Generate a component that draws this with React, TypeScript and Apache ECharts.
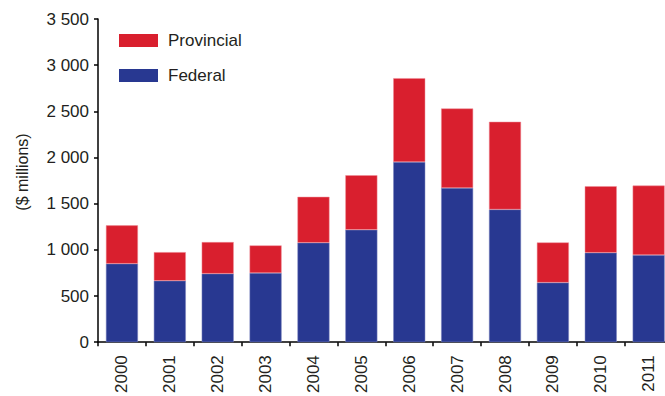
import React, { useEffect, useRef } from "react";
import * as echarts from "echarts";

const years = ["2000", "2001", "2002", "2003", "2004", "2005", "2006", "2007", "2008", "2009", "2010", "2011"];
const federal = [850, 665, 742, 750, 1077, 1217, 1952, 1671, 1437, 645, 969, 943];
const provincial = [415, 310, 342, 298, 497, 591, 907, 860, 950, 435, 720, 753];
const yTicks = [0, 500, 1000, 1500, 2000, 2500, 3000, 3500];

const FONT = "'Liberation Sans', Arial, sans-serif";
const TXT = "#231f20";

function fmt(v: number) {
  return String(v).replace(/\B(?=(\d{3})+(?!\d))/g, " ");
}

export default function App() {
  const ref = useRef<HTMLDivElement>(null);
  useEffect(() => {
    if (!ref.current) return;
    const chart = echarts.init(ref.current, null, { renderer: "svg" });
    chart.setOption({
      animation: false,
      backgroundColor: "#ffffff",
      textStyle: { fontFamily: FONT },
      grid: { left: 98, top: 19, width: 574.6, height: 324 },
      legend: {
        orient: "vertical",
        left: 119,
        top: 32,
        padding: 0,
        itemWidth: 39,
        itemHeight: 13,
        itemGap: 18,
        icon: "rect",
        itemStyle: { borderWidth: 0 },
        data: ["Provincial", "Federal"],
        textStyle: { fontFamily: FONT, fontSize: 17, color: TXT, padding: [0, 0, 0, 5] },
      },
      graphic: [
        {
          type: "text",
          x: 22,
          y: 172,
          rotation: Math.PI / 2,
          style: {
            text: "($ millions)",
            font: `16px ${FONT}`,
            fill: TXT,
            align: "center",
            verticalAlign: "middle",
          },
        },
      ],
      xAxis: {
        type: "category",
        data: years,
        boundaryGap: true,
        axisLine: { lineStyle: { color: "#000", width: 1.5 } },
        axisTick: { show: true, length: 4, alignWithLabel: false, lineStyle: { color: "#000", width: 1.5 } },
        axisLabel: { rotate: 90, margin: 13, fontSize: 17, color: TXT, fontFamily: FONT, interval: 0 },
      },
      yAxis: {
        type: "value",
        min: yTicks[0],
        max: yTicks[yTicks.length - 1],
        interval: 500,
        splitLine: { show: false },
        axisLine: { show: true, lineStyle: { color: "#000", width: 1.5 } },
        axisTick: { show: true, length: 4, lineStyle: { color: "#000", width: 1.5 } },
        axisLabel: { margin: 9, fontSize: 17, color: TXT, fontFamily: FONT, formatter: (v: number) => fmt(v) },
      },
      series: [
        {
          name: "Federal",
          type: "bar",
          stack: "total",
          data: federal,
          barWidth: 32,
          itemStyle: { color: "#283891", borderColor: "#7f86c0", borderWidth: 0.5 },
        },
        {
          name: "Provincial",
          type: "bar",
          stack: "total",
          data: provincial,
          barWidth: 32,
          itemStyle: { color: "#d91f2e", borderColor: "#ef8f98", borderWidth: 0.5 },
        },
      ],
    });
    return () => chart.dispose();
  }, []);
  return (
    <div style={{ position: "fixed", left: 0, top: 0, width: 665, height: 396, overflow: "hidden", background: "#fff" }}>
      <div ref={ref} style={{ width: 690, height: 396 }} />
    </div>
  );
}
